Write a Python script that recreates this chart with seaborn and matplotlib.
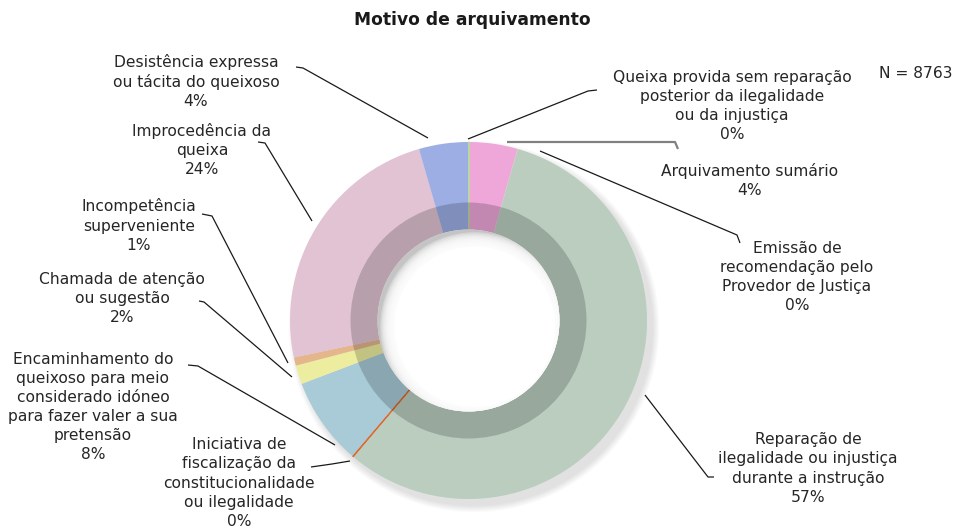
import numpy as np
import matplotlib
matplotlib.use("Agg")
import matplotlib.pyplot as plt
import seaborn as sns
from matplotlib.patches import Circle, Wedge

# dados (ordem no sentido dos ponteiros do relogio, a partir do topo)
categorias = [
    "Queixa provida sem reparação\nposterior da ilegalidade\nou da injustiça",
    "Arquivamento sumário",
    "Emissão de\nrecomendação pelo\nProvedor de Justiça",
    "Reparação de\nilegalidade ou injustiça\ndurante a instrução",
    "Iniciativa de\nfiscalização da\nconstitucionalidade\nou ilegalidade",
    "Encaminhamento do\nqueixoso para meio\nconsiderado idóneo\npara fazer valer a sua\npretensão",
    "Chamada de atenção\nou sugestão",
    "Incompetência\nsuperveniente",
    "Improcedência da\nqueixa",
    "Desistência expressa\nou tácita do queixoso",
]
contagens = [8, 380, 3, 4970, 5, 700, 150, 65, 2090, 392]
cores = ["#B9D99E", "#EFA7DA", "#D9C9C9", "#BACDBF", "#E0692A",
         "#A9CBD7", "#EDED9F", "#E5B58C", "#E1C3D3", "#9CAEE4"]
N = 8763
titulo = "Motivo de arquivamento"

# posicao dos rotulos (pixels) e linhas de chamada
pos_rotulos = [(732, 106), (750, 180.5), (797, 277), (808, 468.5), (239, 483),
               (93, 407), (122, 298.5), (139, 225.5), (202, 150), (196, 81.5)]
linhas = [
    [(597, 90), (588, 91), (468, 139)],
    [(507, 142), (675, 142), (678, 149)],
    [(540, 151), (737, 235), (740, 243)],
    [(645, 395), (708, 477), (714, 477)],
    [(311, 467), (332, 464), (350, 461)],
    [(188, 365), (198, 366), (335, 445)],
    [(199, 301), (204, 302), (292, 377)],
    [(202, 214), (212, 216), (288, 363)],
    [(258, 142), (265, 143), (312, 221)],
    [(296, 67), (303, 68), (428, 138)],
]

sns.set_theme(style="white")
plt.rcParams["font.family"] = ["DejaVu Sans"]

W, H = 957, 531
fig = plt.figure(figsize=(W / 100, H / 100), dpi=100)
fig.patch.set_facecolor("white")

cx, cy, R = 468.5, 320.5, 178.5
ax = fig.add_axes([(cx - R) / W, (H - cy - R) / H, 2 * R / W, 2 * R / H])

r_in = 91 / R
r_band = 118 / R
w_ring = 1 - r_in

fatias, _ = ax.pie(contagens, colors=cores, startangle=90, counterclock=False, radius=1,
                   wedgeprops=dict(width=w_ring, linewidth=0, antialiased=True))
for p in fatias:
    p.set_zorder(2)
# fatias de 0% ficam visiveis como um fio fino
for i in (0, 4):
    fatias[i].set_edgecolor(cores[i])
    fatias[i].set_linewidth(0.7)
    fatias[i].set_zorder(2.5)

ax.set_xlim(-1, 1)
ax.set_ylim(-1, 1)
ax.set_aspect("equal")
ax.axis("off")

# sombra exterior (mais forte em baixo a direita)
for k in range(10):
    rr = 1.0 + 0.004 * (10 - k)
    ax.add_patch(Circle((0.03, -0.035), rr, color="black", alpha=0.01, lw=0,
                        zorder=0, clip_on=False))

# faixa interior mais escura
ax.add_patch(Wedge((0, 0), r_band, 0, 360, width=r_band - r_in,
                   facecolor="black", alpha=0.18, lw=0, zorder=3))

# sombra interior do buraco
buraco = Circle((0, 0), r_in, transform=ax.transData, facecolor="#c4c4c4", lw=0, zorder=4)
ax.add_patch(buraco)
off = (0.035, -0.035)
raios = np.linspace(r_in + 0.02, r_in - 0.06, 12)
for rr in raios:
    c = Circle(off, rr, facecolor="white", alpha=0.28, lw=0, zorder=5)
    ax.add_patch(c)
    c.set_clip_path(buraco)
c = Circle(off, raios[-1], facecolor="white", lw=0, zorder=6)
ax.add_patch(c)
c.set_clip_path(buraco)

# camada de texto em pixels
ov = fig.add_axes([0, 0, 1, 1], facecolor="none")
ov.set_xlim(0, W)
ov.set_ylim(H, 0)
ov.axis("off")

ov.text(472, 20, titulo, ha="center", va="center", fontsize=12.3,
        fontweight="bold", color="#1a1a1a")
ov.text(916, 74, f"N = {N}", ha="center", va="center", fontsize=11.2, color="#262626")

for nome, n, (tx, ty), pts in zip(categorias, contagens, pos_rotulos, linhas):
    pct = round(100 * n / N)
    ov.text(tx, ty, f"{nome}\n{pct}%", ha="center", va="center", fontsize=11.2,
            color="#262626", linespacing=1.34)
    xs, ys = zip(*pts)
    arq = nome == "Arquivamento sumário"
    ov.plot(xs, ys, color="#808080" if arq else "#1a1a1a", lw=1.6 if arq else 0.9,
            solid_capstyle="butt")

fig.savefig("out.png", dpi=100)
